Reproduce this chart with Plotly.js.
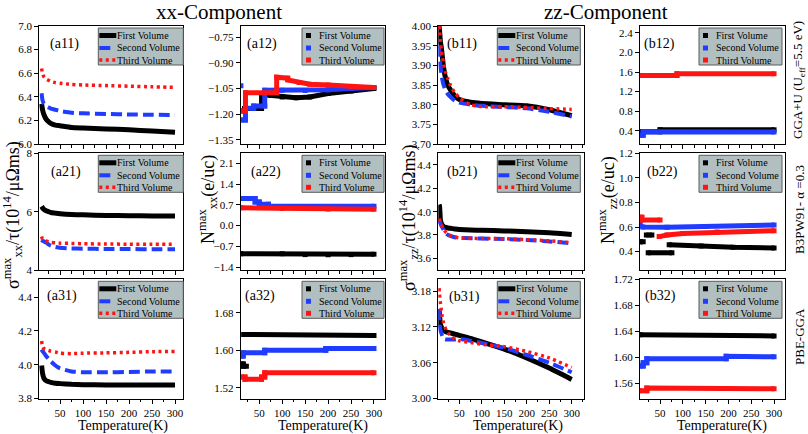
<!DOCTYPE html>
<html><head><meta charset="utf-8">
<script src="https://cdn.plot.ly/plotly-3.0.1.min.js"></script>
<style>html,body{margin:0;padding:0;background:#fff}#chart{width:808px;height:434px}</style>
</head><body><div id="chart"></div>
<script>
// ---------------- data ----------------
const legendNames = ['First Volume', 'Second Volume', 'Third Volume'];
const panelLabels = ['(a11)','(a12)','(b11)','(b12)','(a21)','(a22)','(b21)','(b22)','(a31)','(a32)','(b31)','(b32)'];
const colTitles = ['xx-Component', 'zz-Component'];
const rowLabels = ['GGA+U (U<sub>eff</sub>=5.5 eV)', 'B3PW91- \u03b1 =0.3', 'PBE-GGA'];
const xTitle = 'Temperature(K)';

// sigma xx (column a?1)
const a_T = [10,12,15,20,25,30,40,50,75,100,150,200,250,300];
const a11_first  = [6.34,6.29,6.25,6.21,6.19,6.175,6.16,6.155,6.14,6.135,6.128,6.12,6.11,6.10];
const a11_second = [6.43,6.37,6.34,6.32,6.31,6.30,6.29,6.28,6.265,6.26,6.255,6.25,6.248,6.245];
const a11_third  = [6.64,6.60,6.57,6.55,6.54,6.53,6.52,6.515,6.505,6.50,6.495,6.49,6.485,6.48];
const a21_first  = [6.18,6.13,6.08,6.03,6.0,5.97,5.95,5.93,5.9,5.89,5.87,5.86,5.855,5.85];
const a21_second = [5.03,5.0,4.98,4.94,4.88,4.83,4.79,4.76,4.74,4.73,4.72,4.72,4.71,4.71];
const a21_third  = [5.15,5.06,5.02,5.0,4.97,4.95,4.93,4.92,4.91,4.9,4.89,4.885,4.88,4.88];
const a31_first  = [3.995,3.95,3.92,3.905,3.9,3.895,3.89,3.888,3.884,3.882,3.88,3.88,3.88,3.88];
const a31_second = [4.09,4.08,4.07,4.05,4.035,4.02,3.995,3.978,3.96,3.955,3.955,3.957,3.96,3.96];
const a31_third  = [4.14,4.11,4.095,4.09,4.085,4.08,4.075,4.068,4.065,4.068,4.07,4.073,4.077,4.078];

// sigma zz (column b?1)
const b_T = [5,6,8,10,12,15,20,25,30,40,50,75,100,150,200,250,300];
const b11_first  = [4.0,3.99,3.96,3.945,3.925,3.895,3.865,3.848,3.838,3.822,3.813,3.806,3.803,3.80,3.797,3.787,3.772];
const b11_second = [3.95,3.93,3.90,3.88,3.865,3.85,3.835,3.826,3.82,3.81,3.805,3.80,3.797,3.794,3.791,3.782,3.77];
const b11_third  = [4.0,3.99,3.96,3.94,3.925,3.905,3.88,3.865,3.85,3.83,3.818,3.80,3.795,3.795,3.793,3.79,3.788];
const b21_first  = [4.06,4.05,3.93,3.9,3.885,3.873,3.865,3.86,3.857,3.852,3.848,3.843,3.84,3.835,3.828,3.82,3.805];
const b21_second = [3.93,3.92,3.9,3.88,3.865,3.845,3.815,3.80,3.792,3.78,3.775,3.772,3.77,3.765,3.758,3.745,3.728];
const b21_third  = [3.94,3.93,3.91,3.89,3.87,3.85,3.825,3.81,3.795,3.782,3.775,3.772,3.77,3.768,3.76,3.75,3.733];
const b31_first  = [3.15,3.14,3.125,3.12,3.117,3.115,3.112,3.111,3.11,3.108,3.106,3.101,3.095,3.083,3.068,3.051,3.032];
const b31_second = [3.15,3.125,3.115,3.11,3.105,3.10,3.099,3.099,3.099,3.099,3.1,3.097,3.093,3.085,3.073,3.06,3.044];
const b31_third  = [3.185,3.175,3.16,3.148,3.138,3.127,3.116,3.11,3.106,3.1,3.097,3.094,3.091,3.087,3.079,3.068,3.052];

// N xx (column a?2)
const a12_T1 = [10,18,18,55,55,75,100,130,160,200,250,300];
const a12_first = [-1.18,-1.18,-1.168,-1.168,-1.085,-1.09,-1.10,-1.105,-1.10,-1.08,-1.065,-1.05];
const a12_T2 = [10,null,10,20,20,38,38,62,62,100,150,200,250,300];
const a12_second = [-1.035,null,-1.234,-1.234,-1.166,-1.166,-1.153,-1.153,-1.06,-1.06,-1.062,-1.058,-1.05,-1.045];
const a12_T3 = [10,20,20,88,88,112,112,137,160,200,250,300];
const a12_third = [-1.18,-1.18,-1.075,-1.075,-0.985,-0.99,-1.0,-1.015,-1.025,-1.03,-1.04,-1.045];
const a22_T1 = [10,100,150,200,250,300];
const a22_first = [-0.95,-0.95,-0.98,-0.985,-0.98,-0.965];
const a22_T2 = [10,41,41,50,50,70,70,300];
const a22_second = [0.91,0.91,0.8,0.8,0.72,0.72,0.65,0.65];
const a22_T3 = [10,100,200,300];
const a22_third = [0.6,0.58,0.56,0.555];
const a32_T1 = [10,15,15,22,null,16,300];
const a32_first = [1.571,1.571,1.566,1.566,null,1.634,1.632];
const a32_T2 = [10,15,15,62,62,195,195,300];
const a32_second = [1.588,1.588,1.595,1.595,1.600,1.600,1.604,1.604];
const a32_T3 = [10,19,19,55,55,62,62,300];
const a32_third = [1.543,1.543,1.538,1.538,1.543,1.543,1.552,1.552];

// N zz (column b?2)
const b12_T1 = [6,50,50,300];
const b12_first = [0.38,0.38,0.42,0.42];
const b12_T2 = [6,13,13,300];
const b12_second = [0.31,0.31,0.38,0.375];
const b12_T3 = [6,87,87,300];
const b12_third = [1.53,1.53,1.565,1.565];
const b22_T1 = [6,13,null,20,32,null,24,76,null,70,140,210,300];
const b22_first = [0.48,0.48,null,0.535,0.535,null,0.39,0.39,null,0.456,0.445,0.435,0.43];
const b22_T2 = [6,12,65,150,250,300];
const b22_second = [0.62,0.6,0.598,0.605,0.612,0.617];
const b22_T3 = [6,10,10,50,null,48,65,100,175,300];
const b22_third = [0.68,0.68,0.658,0.658,null,0.522,0.535,0.548,0.56,0.57];
const b32_T1 = [6,300];
const b32_first = [1.635,1.633];
const b32_T2 = [6,13,13,21,21,195,195,300];
const b32_second = [1.587,1.587,1.592,1.592,1.598,1.598,1.602,1.601];
const b32_T3 = [6,21,21,300];
const b32_third = [1.549,1.549,1.553,1.552];

// y-axis tick setup per panel
const yRanges = [[6.0,7.0],[-1.375,-0.685],[3.70,4.00],[0.13,2.54],
                 [4,8],[-1.5,2.44],[3.5,4.5],[0.25,1.2],
                 [3.8,4.505],[1.497,1.752],[3.0,3.2],[1.537,1.72]];
const yTick0 = [6.0,-1.35,3.7,0.4, 4,-1.4,3.6,0.4, 3.8,1.52,3.0,1.56];
const yDtick = [0.2,0.15,0.05,0.4, 2,0.7,0.2,0.2, 0.2,0.08,0.06,0.04];
const yFmt = ['.1f','.2f','.2f','.1f','d','.1f','.1f','.1f','.1f','.2f','.2f','.2f'];

// ---------------- layout helpers ----------------
const W = 808, H = 434;
const colX = [[39.3,183.3],[240.7,385],[438.3,584.3],[640,785]];
const rowY = [[26,144],[153.3,270],[279.3,398.5]];
const xRanges = [[5,318],[9.6,324],[3.3,328],[6,324]];
const xTitleX = [122.5,322.5,517.5,721.5];
const colors = ['#000000','#1f3cff','#ff1414'];
const serif = 'Liberation Serif, Times New Roman, serif';

const panels = [
  {T:[a_T,a_T,a_T], Y:[a11_first,a11_second,a11_third], kind:'line'},
  {T:[a12_T1,a12_T2,a12_T3], Y:[a12_first,a12_second,a12_third], kind:'step'},
  {T:[b_T,b_T,b_T], Y:[b11_first,b11_second,b11_third], kind:'line'},
  {T:[b12_T1,b12_T2,b12_T3], Y:[b12_first,b12_second,b12_third], kind:'step'},
  {T:[a_T,a_T,a_T], Y:[a21_first,a21_second,a21_third], kind:'line'},
  {T:[a22_T1,a22_T2,a22_T3], Y:[a22_first,a22_second,a22_third], kind:'step'},
  {T:[b_T,b_T,b_T], Y:[b21_first,b21_second,b21_third], kind:'line'},
  {T:[b22_T1,b22_T2,b22_T3], Y:[b22_first,b22_second,b22_third], kind:'step'},
  {T:[a_T,a_T,a_T], Y:[a31_first,a31_second,a31_third], kind:'line'},
  {T:[a32_T1,a32_T2,a32_T3], Y:[a32_first,a32_second,a32_third], kind:'step'},
  {T:[b_T,b_T,b_T], Y:[b31_first,b31_second,b31_third], kind:'line'},
  {T:[b32_T1,b32_T2,b32_T3], Y:[b32_first,b32_second,b32_third], kind:'step'}
];

const lineStyles = [
  {width:5, dash:'solid', key:17},
  {width:4, dash:'11px,5px', key:12},
  {width:3.5, dash:'3px,3.5px', key:17}
];
const boxL = [-85,-83,-87,-86], boxR = [0,-1,-4,-3];
const labelOff = [9,4,7,2, 10,8,7,5, 6,2,9,3];
const labelYOff = [18,18,18,18, 19,19,19,19, 17,17,18,17];
const itemOff = [9.5,22,34];

const px = v => v / W;
const py = v => 1 - v / H;

const layout = {
  width: W, height: H,
  margin: {l:0, r:0, t:0, b:0},
  paper_bgcolor: '#ffffff', plot_bgcolor: '#ffffff',
  showlegend: false,
  font: {family: serif, size: 11, color: '#000'},
  shapes: [], annotations: []
};
const traces = [];

panels.forEach((p, i) => {
  const r = Math.floor(i / 4), c = i % 4, n = i + 1, s = n === 1 ? '' : String(n);
  const xa = {
    domain: [px(colX[c][0]), px(colX[c][1])], range: xRanges[c], anchor: 'y' + s,
    tick0: 0, dtick: 50, ticks: 'outside', ticklen: 4, tickwidth: 1, tickcolor: '#000',
    showline: true, linecolor: '#000', linewidth: 1, mirror: true,
    showgrid: false, zeroline: false, showticklabels: r === 2,
    tickfont: {family: serif, size: 11, color: '#000'},
    minor: {tick0: 0, dtick: 25, ticks: 'outside', ticklen: 2.5, tickcolor: '#000', showgrid: false}
  };
  const ya = {
    domain: [py(rowY[r][1]), py(rowY[r][0])], range: yRanges[i], anchor: 'x' + s,
    tick0: yTick0[i], dtick: yDtick[i], tickformat: yFmt[i],
    ticks: 'outside', ticklen: 4, tickwidth: 1, tickcolor: '#000',
    showline: true, linecolor: '#000', linewidth: 1, mirror: true,
    showgrid: false, zeroline: false,
    tickfont: {family: serif, size: 11, color: '#000'}
  };
  layout['xaxis' + s] = xa;
  layout['yaxis' + s] = ya;

  for (let k = 0; k < 3; k++) {
    const t = {
      type: 'scatter', x: p.T[k], y: p.Y[k], name: legendNames[k],
      xaxis: 'x' + s, yaxis: 'y' + s, connectgaps: false, hoverinfo: 'skip'
    };
    if (p.kind === 'line') {
      t.mode = 'lines';
      t.line = {color: colors[k], width: lineStyles[k].width, dash: lineStyles[k].dash, shape: 'spline', smoothing: 0.5};
    } else {
      t.mode = 'lines+markers';
      t.line = {color: colors[k], width: 5, shape: 'linear'};
      t.marker = {symbol: 'square', size: 5, color: colors[k]};
    }
    traces.push(t);
  }

  // legend box
  const right = colX[c][1], top = rowY[r][0];
  const bx0 = right + boxL[c], bx1 = right + boxR[c];
  layout.shapes.push({type: 'rect', xref: 'paper', yref: 'paper',
    x0: px(bx0), x1: px(bx1), y0: py(top + 39), y1: py(top + 2),
    fillcolor: '#b2bfc1', line: {color: '#5a5a5a', width: 1}, layer: 'above'});
  for (let k = 0; k < 3; k++) {
    const yy = top + itemOff[k];
    let tx;
    if (p.kind === 'line') {
      layout.shapes.push({type: 'line', xref: 'paper', yref: 'paper',
        x0: px(bx0 + 1), x1: px(bx0 + 1 + lineStyles[k].key), y0: py(yy), y1: py(yy),
        line: {color: colors[k], width: lineStyles[k].width, dash: lineStyles[k].dash}, layer: 'above'});
      tx = bx0 + 16.5;
    } else {
      layout.shapes.push({type: 'rect', xref: 'paper', yref: 'paper',
        x0: px(bx0 + 4), x1: px(bx0 + 9), y0: py(yy + 2.5), y1: py(yy - 2.5),
        fillcolor: colors[k], line: {width: 0}, layer: 'above'});
      tx = bx0 + 15;
    }
    layout.annotations.push({xref: 'paper', yref: 'paper', x: px(tx), y: py(yy),
      xanchor: 'left', yanchor: 'middle', showarrow: false, text: legendNames[k],
      font: {family: serif, size: 10, color: '#000'}});
  }
  // panel label
  layout.annotations.push({xref: 'paper', yref: 'paper', x: px(colX[c][0] + labelOff[i]), y: py(top + labelYOff[i]),
    xanchor: 'left', yanchor: 'middle', showarrow: false, text: panelLabels[i],
    font: {family: serif, size: 14, color: '#000'}});
  // x-axis title under the bottom row
  if (r === 2) {
    layout.annotations.push({xref: 'paper', yref: 'paper', x: px(xTitleX[c]), y: py(426),
      xanchor: 'center', yanchor: 'middle', showarrow: false, text: xTitle,
      font: {family: serif, size: 14, color: '#000'}});
  }
});

// column titles
layout.annotations.push({xref:'paper', yref:'paper', x: px(219), y: py(12), xanchor:'center', yanchor:'middle',
  showarrow:false, text: colTitles[0], font:{family: serif, size: 21, color:'#000'}});
layout.annotations.push({xref:'paper', yref:'paper', x: px(606), y: py(12), xanchor:'center', yanchor:'middle',
  showarrow:false, text: colTitles[1], font:{family: serif, size: 21, color:'#000'}});

// big rotated y labels
const yLabels = [
  {t:'\u03c3<sup>max</sup><sub>xx</sub>/\u03c4(10<sup>14</sup>/\u03bc\u03a9ms)', x:12, y:215},
  {t:'N<sup>max</sup><sub>xx</sub>(e/uc)', x:207, y:200},
  {t:'\u03c3<sup>max</sup><sub>zz</sub>/\u03c4(10<sup>14</sup>/\u03bc\u03a9ms)', x:408, y:218},
  {t:'N<sup>max</sup><sub>zz</sub>(e/uc)', x:607, y:200}
];
yLabels.forEach(l => layout.annotations.push({xref:'paper', yref:'paper', x: px(l.x), y: py(l.y),
  xanchor:'center', yanchor:'middle', textangle:-90, showarrow:false, text:l.t,
  font:{family: serif, size: 18, color:'#000'}}));

// right row labels
const rowLabelY = [80, 210, 337];
rowLabels.forEach((t, r) => layout.annotations.push({xref:'paper', yref:'paper', x: px(799), y: py(rowLabelY[r]),
  xanchor:'center', yanchor:'middle', textangle:-90, showarrow:false, text:t,
  font:{family: serif, size: 13, color:'#000'}}));

Plotly.newPlot('chart', traces, layout, {staticPlot: true, displayModeBar: false});
</script>
</body></html>
